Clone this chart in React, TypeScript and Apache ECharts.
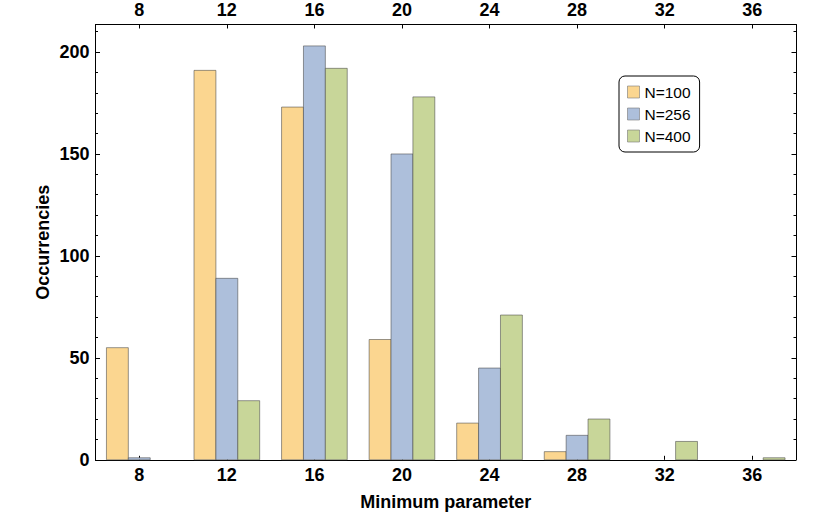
import React, { useEffect, useRef } from "react";
import * as echarts from "echarts";

const categories = [8, 12, 16, 20, 24, 28, 32, 36];
const n100 = [55, 191, 173, 59, 18, 4, 0, 0];
const n256 = [1, 89, 203, 150, 45, 12, 0, 0];
const n400 = [0, 29, 192, 178, 71, 20, 9, 1];
const seriesNames = ["N=100", "N=256", "N=400"];
const seriesColors = ["#FBD690", "#ADBFDB", "#C8D699"];
const yMajor = [0, 50, 100, 150, 200];
const yMinor = [0, 10, 20, 30, 40, 50, 60, 70, 80, 90, 100, 110, 120, 130, 140, 150, 160, 170, 180, 190, 200, 210];

const FONT = "Liberation Sans, Arial, sans-serif";

export default function App() {
  const ref = useRef<HTMLDivElement>(null);
  useEffect(() => {
    if (!ref.current) return;
    const chart = echarts.init(ref.current, null, { renderer: "svg" });
    const allSeries = [n100, n256, n400];
    const labelStyle = { fontSize: 18, fontWeight: "bold", color: "#000", fontFamily: FONT };
    const lineStyle = { color: "#000", width: 1 };
    const mkX = (pos: "top" | "bottom", withName: boolean) => ({
      type: "value",
      min: 6,
      max: 38,
      position: pos,
      gridIndex: 0,
      name: withName ? "Minimum parameter" : "",
      nameLocation: "middle",
      nameGap: 33,
      nameTextStyle: { fontSize: 18, fontWeight: "bold", color: "#000", fontFamily: FONT },
      axisLine: { show: true, onZero: false, lineStyle },
      axisTick: { show: true, inside: true, length: 4, customValues: categories, lineStyle },
      axisLabel: { ...labelStyle, margin: 6, customValues: categories },
      splitLine: { show: false },
    });
    const mkY = (pos: "left" | "right", major: boolean, withLabels: boolean, withName: boolean) => ({
      type: "value",
      min: 0,
      max: 213.5,
      position: pos,
      gridIndex: 0,
      name: withName ? "Occurrencies" : "",
      nameLocation: "middle",
      nameGap: 44,
      nameMoveOverlap: false,
      nameTextStyle: { fontSize: 18, fontWeight: "bold", color: "#000", fontFamily: FONT },
      axisLine: { show: major, onZero: false, lineStyle },
      axisTick: {
        show: true,
        inside: true,
        length: major ? 4.5 : 2.5,
        customValues: major ? yMajor : yMinor,
        lineStyle,
      },
      axisLabel: { show: withLabels, ...labelStyle, margin: 6, customValues: yMajor },
      splitLine: { show: false },
    });

    const series = allSeries.map((vals, si) => ({
      type: "custom",
      name: seriesNames[si],
      xAxisIndex: 0,
      yAxisIndex: 0,
      itemStyle: { color: seriesColors[si] },
      encode: { x: 0, y: 1 },
      data: categories.map((c, i) => [c, vals[i]]),
      renderItem: (params: any, api: any) => {
        const x = api.value(0) as number;
        const y = api.value(1) as number;
        if (!y) return null;
        const off = si - 1;
        const p1 = api.coord([x + off - 0.5, y]);
        const p2 = api.coord([x + off + 0.5, 0]);
        return {
          type: "rect",
          shape: { x: p1[0], y: p1[1], width: p2[0] - p1[0], height: p2[1] - p1[1] },
          style: { fill: seriesColors[si], stroke: "rgba(70,70,70,0.55)", lineWidth: 1 },
        };
      },
    }));

    chart.setOption({
      animation: false,
      backgroundColor: "#fff",
      grid: { left: 95.5, right: 34, top: 24.5, bottom: 54.2, containLabel: false, outerBoundsMode: "none" },
      xAxis: [mkX("bottom", true), mkX("top", false)],
      yAxis: [mkY("left", true, true, true), mkY("left", false, false, false), mkY("right", true, false, false), mkY("right", false, false, false)],
      legend: {
        show: true,
        orient: "vertical",
        left: 619,
        top: 76,
        padding: [8, 9, 8, 8],
        itemWidth: 12,
        itemHeight: 12,
        itemGap: 6,
        itemTextGap: 13,
        icon: "rect",
        backgroundColor: "#fff",
        borderColor: "#000",
        borderWidth: 1,
        borderRadius: 6,
        itemStyle: { borderColor: "rgba(120,120,120,0.6)", borderWidth: 1 },
        textStyle: { fontSize: 15.5, color: "#000", fontFamily: FONT },
        data: seriesNames,
      },
      series,
    });
    return () => chart.dispose();
  }, []);
  return <div ref={ref} style={{ width: 830, height: 514, position: "absolute", left: 0, top: 0 }} />;
}
